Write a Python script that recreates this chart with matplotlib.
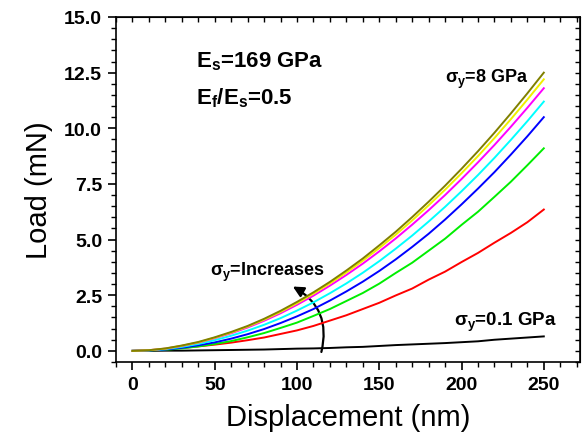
import matplotlib
matplotlib.use("Agg")
import matplotlib.pyplot as plt
from matplotlib.ticker import MultipleLocator
from matplotlib.patches import FancyArrowPatch

plt.rcParams['font.family'] = ['Liberation Sans', 'DejaVu Sans']
plt.rcParams['mathtext.fontset'] = 'custom'
plt.rcParams['mathtext.rm'] = 'Liberation Sans'
plt.rcParams['mathtext.bf'] = 'Liberation Sans:bold'
plt.rcParams['mathtext.it'] = 'Liberation Sans:italic'

disp = [0, 10, 20, 30, 40, 50, 60, 70, 80, 90, 100, 110, 120, 130, 140, 150,
        160, 170, 180, 190, 200, 210, 220, 230, 240, 250]
load_olive = [0, 0.03, 0.11, 0.24, 0.40, 0.61, 0.85, 1.12, 1.44, 1.80, 2.20, 2.63, 3.10,
              3.61, 4.15, 4.74, 5.35, 6.01, 6.70, 7.42, 8.18, 8.97, 9.80, 10.67, 11.57, 12.5]
load_yellow = [0, 0.03, 0.10, 0.23, 0.38, 0.59, 0.82, 1.09, 1.40, 1.75, 2.14, 2.57, 3.03,
               3.52, 4.05, 4.62, 5.22, 5.86, 6.54, 7.24, 7.98, 8.75, 9.56, 10.41, 11.29, 12.2]
load_magenta = [0, 0.03, 0.10, 0.22, 0.37, 0.57, 0.79, 1.05, 1.35, 1.69, 2.07, 2.48, 2.93,
                3.41, 3.92, 4.47, 5.05, 5.67, 6.32, 7.00, 7.72, 8.47, 9.25, 10.07, 10.92, 11.8]
load_cyan = [0, 0.02, 0.08, 0.18, 0.31, 0.48, 0.68, 0.91, 1.17, 1.47, 1.81, 2.18, 2.59,
             3.03, 3.51, 4.03, 4.59, 5.18, 5.81, 6.47, 7.17, 7.90, 8.67, 9.48, 10.32, 11.2]
load_blue = [0, 0.02, 0.06, 0.14, 0.25, 0.38, 0.55, 0.75, 0.98, 1.25, 1.55, 1.88, 2.26,
             2.67, 3.11, 3.59, 4.11, 4.67, 5.26, 5.90, 6.58, 7.29, 8.03, 8.82, 9.64, 10.5]
load_green = [0, 0.02, 0.05, 0.11, 0.20, 0.31, 0.44, 0.61, 0.80, 1.03, 1.27, 1.57, 1.88,
              2.24, 2.60, 3.02, 3.50, 3.96, 4.50, 5.04, 5.66, 6.25, 6.92, 7.60, 8.34, 9.1]
load_red = [0, 0.02, 0.07, 0.13, 0.20, 0.28, 0.37, 0.48, 0.60, 0.76, 0.92, 1.12, 1.36,
            1.60, 1.88, 2.16, 2.49, 2.80, 3.20, 3.56, 3.99, 4.40, 4.86, 5.30, 5.78, 6.35]
load_black = [0, 0.00, 0.01, 0.01, 0.02, 0.03, 0.04, 0.05, 0.06, 0.08, 0.10, 0.11, 0.13,
              0.16, 0.18, 0.22, 0.26, 0.29, 0.32, 0.35, 0.39, 0.43, 0.50, 0.55, 0.60, 0.65]

series = [
    (load_black, '#000000'),
    (load_red, '#FF0000'),
    (load_green, '#00EE00'),
    (load_blue, '#0000FF'),
    (load_cyan, '#00FFFF'),
    (load_magenta, '#FF00FF'),
    (load_yellow, '#F0F000'),
    (load_olive, '#808000'),
]

fig = plt.figure(figsize=(5.87, 4.39), dpi=100)
ax = fig.add_axes([116/587, 1-363/439, (580-116)/587, (363-18)/439])

for vals, col in series:
    ax.plot(disp, vals, color=col, lw=1.4)

ax.set_xlim(-10, 272)
ax.set_ylim(-0.5, 15)
ax.xaxis.set_major_locator(MultipleLocator(50))
ax.xaxis.set_minor_locator(MultipleLocator(10))
ax.yaxis.set_major_locator(MultipleLocator(2.5))
ax.yaxis.set_minor_locator(MultipleLocator(0.5))
ax.yaxis.set_major_formatter(matplotlib.ticker.FormatStrFormatter('%.1f'))

for sp in ax.spines.values():
    sp.set_linewidth(1.2)

ax.tick_params(which='major', direction='out', length=6, width=1.2,
               labelsize=14, pad=4)
ax.tick_params(which='minor', direction='out', length=3.5, width=1.0)
for lab in ax.get_xticklabels() + ax.get_yticklabels():
    lab.set_fontweight('bold')

top = ax.secondary_xaxis('top')
top.xaxis.set_major_locator(MultipleLocator(50))
top.xaxis.set_minor_locator(MultipleLocator(10))
top.tick_params(which='both', direction='in', length=3.5, width=1.0, labeltop=False)
right = ax.secondary_yaxis('right')
right.yaxis.set_major_locator(MultipleLocator(2.5))
right.yaxis.set_minor_locator(MultipleLocator(0.5))
right.tick_params(which='both', direction='in', length=3.5, width=1.0, labelright=False)

ax.set_xlabel('Displacement (nm)', fontsize=21, labelpad=7)
ax.set_ylabel('Load (mN)', fontsize=21, labelpad=8)

ax.text(38.8, 12.76, r'$\mathbf{E_s}$=169 GPa', fontsize=16, fontweight='bold', va='baseline')
ax.text(38.8, 11.1, r'$\mathbf{E_f/E_s}$=0.5', fontsize=16, fontweight='bold', va='baseline')
ax.text(190.2, 12.08, r'$\mathbf{\sigma_y}$=8 GPa', fontsize=13, fontweight='bold', va='baseline')
ax.text(195.4, 1.15, r'$\mathbf{\sigma_y}$=0.1 GPa', fontsize=13.5, fontweight='bold', va='baseline')
ax.text(47.3, 3.42, r'$\mathbf{\sigma_y}$=Increases', fontsize=13, fontweight='bold', va='baseline')

arrow = FancyArrowPatch((114.4, -0.17), (96.0, 2.95), connectionstyle='arc3,rad=0.4',
                        arrowstyle='-|>', mutation_scale=16, lw=1.6, color='black')
ax.add_patch(arrow)

fig.savefig('out.png', dpi=100)
